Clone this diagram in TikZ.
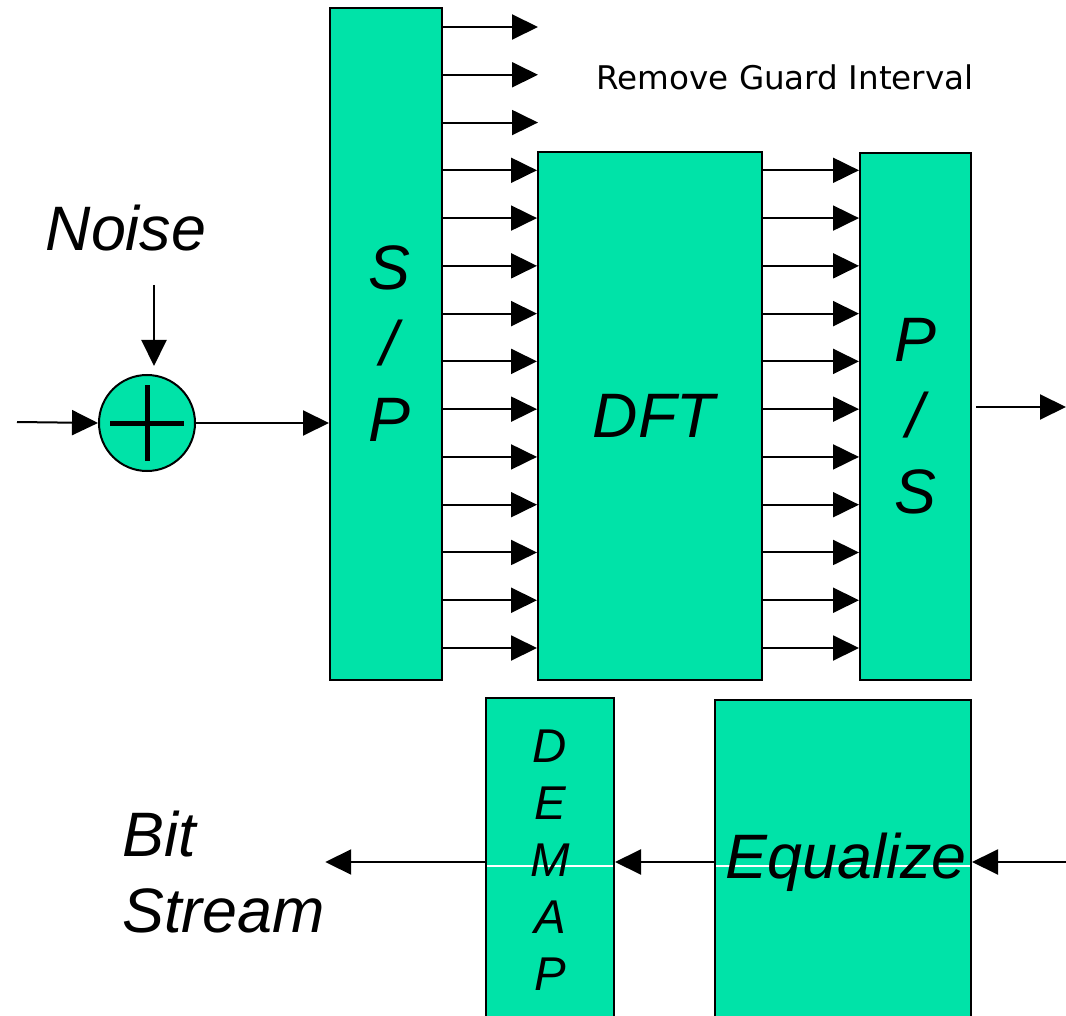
\documentclass[tikz,border=0pt]{standalone}
\usepackage{fontspec}
\setmainfont{Liberation Sans}
\newfontfamily\guardfont{DejaVu Sans}
\usetikzlibrary{arrows.meta}
\definecolor{blockgreen}{RGB}{0,227,168}

\begin{document}
\begin{tikzpicture}[x=0.5pt, y=-0.5pt, >={Triangle[length=13pt,width=12.5pt]}]
  % Styles du récepteur
  \tikzset{
    block/.style={draw, line width=1pt, fill=blockgreen, inner sep=0pt, align=center},
    bigtxt/.style={font=\fontsize{31.4}{38}\selectfont\itshape},
    link/.style={->, line width=1pt},
    seam/.style={path picture={\draw[white, line width=0.6pt]
      ([yshift=#1]path picture bounding box.west) -- ([yshift=#1]path picture bounding box.east);}}
  }
  \useasboundingbox (0,0) rectangle (1066,1016);
  \clip (0,0) rectangle (1066,1016);

  % Blocs
  \node[block, bigtxt, minimum width=56pt, minimum height=336pt] (sp) at (386,344) {\hspace{3pt}S\\\hspace{3pt}/\\\hspace{3pt}P};
  \node[block, bigtxt, minimum width=112pt, minimum height=264pt] (dft) at (650,416) {\hspace{4pt}DFT};
  \node[block, bigtxt, minimum width=55.5pt, minimum height=263.5pt] (ps) at (915.5,416.5) {P\\/\\S};
  \node[block, seam=-3pt, font=\fontsize{23.7}{28.5}\selectfont\itshape,
        minimum width=64pt, minimum height=162pt] (demap) at (550,860) {D\\E\\M\\A\\P};
  \node[block, seam=-2pt, bigtxt, minimum width=128pt, minimum height=162pt] (eq) at (843,862) {\hspace{3pt}Equalize};

  % Additionneur de bruit
  \node[circle, draw, line width=1pt, fill=blockgreen, minimum size=48pt, inner sep=0pt] (sum) at (147,423) {};
  \draw[line width=2.5pt] (sum.center) ++(0,-38) -- ++(0,76) (sum.center) ++(-37,0) -- ++(74,0);

  % Textes
  \node[bigtxt, anchor=base] (noise) at (126,251) {Noise};
  \node[bigtxt, align=left, anchor=west, inner sep=0pt] (bits) at (122,872) {Bit\\Stream};
  \node[font=\guardfont\fontsize{16.3}{19}\selectfont, anchor=base west, inner sep=0pt] (guard) at (596,90) {Remove Guard Interval};

  % Entrée et bruit
  \coordinate (in) at (17,422);
  \draw[link] (in) -- (sum.west);
  \coordinate (nstart) at (154,285);
  \draw[link, shorten >=4pt] (nstart) -- (nstart |- sum.north);
  \draw[link] (sum.east) -- (sum.east -| sp.west);

  % Intervalle de garde (sorties libres)
  \foreach \i in {0,1,2}{
    \pgfmathsetmacro{\yy}{27+47.77*\i}
    \coordinate (gi\i) at (538,\yy);
    \draw[link] (sp.east |- gi\i) -- (gi\i);
  }
  % Sous-porteuses
  \foreach \i in {3,...,13}{
    \pgfmathsetmacro{\yy}{27+47.77*\i}
    \coordinate (ch\i) at (0,\yy);
    \draw[link] (sp.east |- ch\i) -- (dft.west |- ch\i);
    \draw[link] (dft.east |- ch\i) -- (ps.west |- ch\i);
  }

  % Sortie P/S
  \coordinate (out) at (1066,407);
  \draw[link, shorten <=2pt] (ps.east |- out) -- (out);

  % Chaîne du bas
  \coordinate (eqin) at (1066,862);
  \draw[link] (eqin) -- (eq.east |- eqin);
  \draw[link] (eq.west |- eqin) -- (demap.east |- eqin);
  \draw[link] (demap.west |- eqin) -- (bits.east |- eqin);
\end{tikzpicture}
\end{document}
